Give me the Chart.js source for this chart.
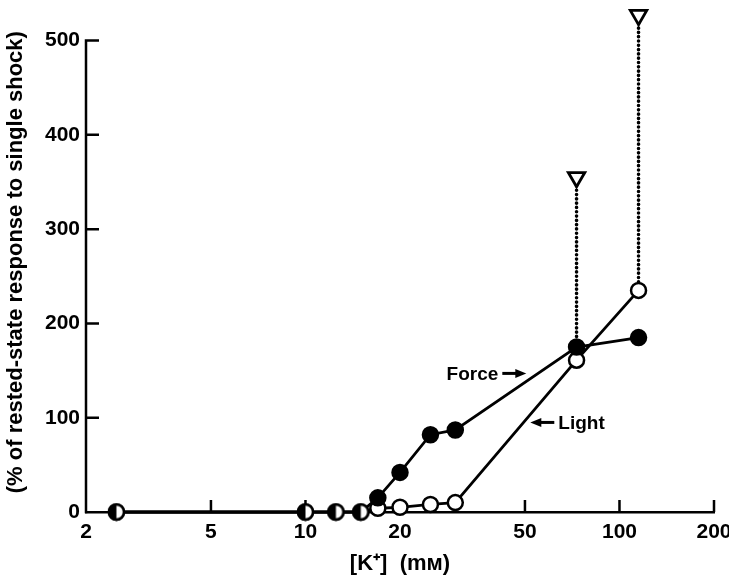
<!DOCTYPE html>
<html>
<head>
<meta charset="utf-8">
<script src="https://cdn.jsdelivr.net/npm/chart.js@4.4.0/dist/chart.umd.min.js"></script>
<style>
  html, body { margin: 0; padding: 0; background: #fff; }
</style>
</head>
<body>
<canvas id="kChart" width="729" height="577"></canvas>
<script>
// [K+] in mM for the points where force and light coincide at zero
const kShared = [2.5, 10, 12.5, 15];
const sharedVals = [0, 0, 0, 0];
// rising part of the two curves
const kRise = [17, 20, 25, 30, 73, 115];
const forceVals = [15, 42, 82, 87, 175, 185];
const lightVals = [4, 5, 8, 10, 161, 235];
// open triangles (peak values) and where their dotted lines drop to
const kPeak = [73, 115];
const peakVals = [355, 527];
const peakBase = [175, 235];
const xTickVals = [2, 5, 10, 20, 50, 100, 200];
const yTickVals = [0, 100, 200, 300, 400, 500];
const notes = [
    { text: 'Force', x: 50.5, y: 147, arrow: 'right' },
    { text: 'Light', x: 52, y: 95, arrow: 'left' }
];

const FONT = "'Liberation Sans', Arial, sans-serif";
Chart.defaults.font.family = FONT;
Chart.defaults.color = '#000';

function halfDot(r) {
    const c = document.createElement('canvas');
    const s = Math.ceil(r * 2 + 4);
    c.width = s;
    c.height = s;
    const g = c.getContext('2d');
    const m = s / 2;
    g.beginPath(); g.arc(m, m, r, 0, Math.PI * 2); g.fillStyle = '#fff'; g.fill();
    g.beginPath(); g.arc(m, m, r, Math.PI / 2, Math.PI * 1.5); g.closePath(); g.fillStyle = '#000'; g.fill();
    g.beginPath(); g.arc(m, m, r, 0, Math.PI * 2); g.lineWidth = 2.5; g.strokeStyle = '#000'; g.stroke();
    return c;
}
const half = halfDot(7.5);

const pts = (xs, ys) => xs.map((x, i) => ({ x: x, y: ys[i] }));
const styles = kShared.map(() => half).concat(kRise.map(() => 'circle'));

// y axis line stops at 500, tick marks point into the plot
const axisTicks = {
    id: 'axisTicks',
    beforeDatasetsDraw(chart) {
        const { ctx, scales: { x, y } } = chart;
        const top = y.getPixelForValue(yTickVals[yTickVals.length - 1]);
        ctx.save();
        ctx.strokeStyle = '#000';
        ctx.lineWidth = 2.5;
        ctx.beginPath();
        ctx.moveTo(x.left, y.bottom + 1.25);
        ctx.lineTo(x.left, top - 1.25);
        xTickVals.slice(1).forEach(v => {
            const px = x.getPixelForValue(v);
            ctx.moveTo(px, y.bottom);
            ctx.lineTo(px, y.bottom - 12);
        });
        yTickVals.slice(1).forEach(v => {
            const py = y.getPixelForValue(v);
            ctx.moveTo(x.left, py);
            ctx.lineTo(x.left + 13, py);
        });
        ctx.stroke();
        ctx.restore();
    }
};

// "Force ->" and "<- Light"
const arrowNotes = {
    id: 'arrowNotes',
    afterDatasetsDraw(chart) {
        const { ctx, scales: { x, y } } = chart;
        ctx.save();
        ctx.fillStyle = '#000';
        ctx.strokeStyle = '#000';
        ctx.lineWidth = 3;
        ctx.font = 'bold 19px ' + FONT;
        ctx.textBaseline = 'middle';
        notes.forEach(n => {
            const tx = x.getPixelForValue(n.x);
            const ty = y.getPixelForValue(n.y);
            const dir = n.arrow === 'right' ? 1 : -1;
            const tail = tx - dir * 24;
            ctx.beginPath();
            ctx.moveTo(tail, ty);
            ctx.lineTo(tx - dir * 6, ty);
            ctx.stroke();
            ctx.beginPath();
            ctx.moveTo(tx, ty);
            ctx.lineTo(tx - dir * 11, ty - 4.5);
            ctx.lineTo(tx - dir * 11, ty + 4.5);
            ctx.closePath();
            ctx.fill();
            ctx.textAlign = dir > 0 ? 'right' : 'left';
            ctx.fillText(n.text, tail - dir * 4, ty + 1);
        });
        ctx.restore();
    }
};

const dotted = kPeak.map((k, i) => ({
    data: [{ x: k, y: peakVals[i] }, { x: k, y: peakBase[i] }],
    borderColor: '#000',
    borderWidth: 3.6,
    borderDash: [0.1, 4.2],
    borderCapStyle: 'round',
    pointRadius: 0,
    clip: false,
    order: 5
}));

new Chart(document.getElementById('kChart'), {
    type: 'line',
    data: {
        datasets: [
            {
                label: 'Peak',
                data: pts(kPeak, peakVals),
                showLine: false,
                pointStyle: 'triangle',
                rotation: 180,
                pointRadius: 9.5,
                pointBackgroundColor: '#fff',
                pointBorderColor: '#000',
                pointBorderWidth: 2.8,
                clip: false,
                order: 0
            },
            {
                label: 'Force',
                data: pts(kShared, sharedVals).concat(pts(kRise, forceVals)),
                borderColor: '#000',
                borderWidth: 2.8,
                pointStyle: styles,
                pointRadius: 7.5,
                pointBackgroundColor: '#000',
                pointBorderColor: '#000',
                pointBorderWidth: 2.5,
                clip: false,
                order: 1
            },
            {
                label: 'Light',
                data: pts(kShared, sharedVals).concat(pts(kRise, lightVals)),
                borderColor: '#000',
                borderWidth: 2.8,
                pointStyle: styles,
                pointRadius: 7.5,
                pointBackgroundColor: '#fff',
                pointBorderColor: '#000',
                pointBorderWidth: 2.5,
                clip: false,
                order: 2
            }
        ].concat(dotted)
    },
    options: {
        responsive: false,
        animation: false,
        events: [],
        layout: { padding: { top: 12, right: 15, left: 0, bottom: 0 } },
        plugins: { legend: { display: false }, tooltip: { enabled: false } },
        scales: {
            x: {
                type: 'logarithmic',
                min: 2,
                max: 200,
                afterBuildTicks: s => { s.ticks = xTickVals.map(v => ({ value: v })); },
                afterFit: s => { s.height = 65; s.paddingLeft = 0; s.paddingRight = 0; },
                grid: { display: false, drawTicks: false },
                border: { display: true, color: '#000', width: 2.5 },
                ticks: {
                    autoSkip: false,
                    maxRotation: 0,
                    padding: 8,
                    font: { size: 21, weight: 'bold' },
                    callback: v => String(v)
                },
                title: {
                    display: true,
                    text: '[K\u207A]  (m\u1D0D)',
                    font: { size: 22, weight: 'bold' },
                    padding: { top: 0, bottom: 0 }
                }
            },
            y: {
                min: 0,
                max: 530,
                afterBuildTicks: s => { s.ticks = yTickVals.map(v => ({ value: v })); },
                afterFit: s => { s.width = 86; s.paddingTop = 0; s.paddingBottom = 0; },
                grid: { display: false, drawTicks: false },
                border: { display: false },
                ticks: {
                    padding: 6,
                    font: { size: 21, weight: 'bold' }
                },
                title: {
                    display: true,
                    text: '(% of rested-state response to single shock)',
                    font: { size: 22, weight: 'bold' },
                    padding: { top: 3, bottom: 0 }
                }
            }
        }
    },
    plugins: [axisTicks, arrowNotes]
});
</script>
</body>
</html>
